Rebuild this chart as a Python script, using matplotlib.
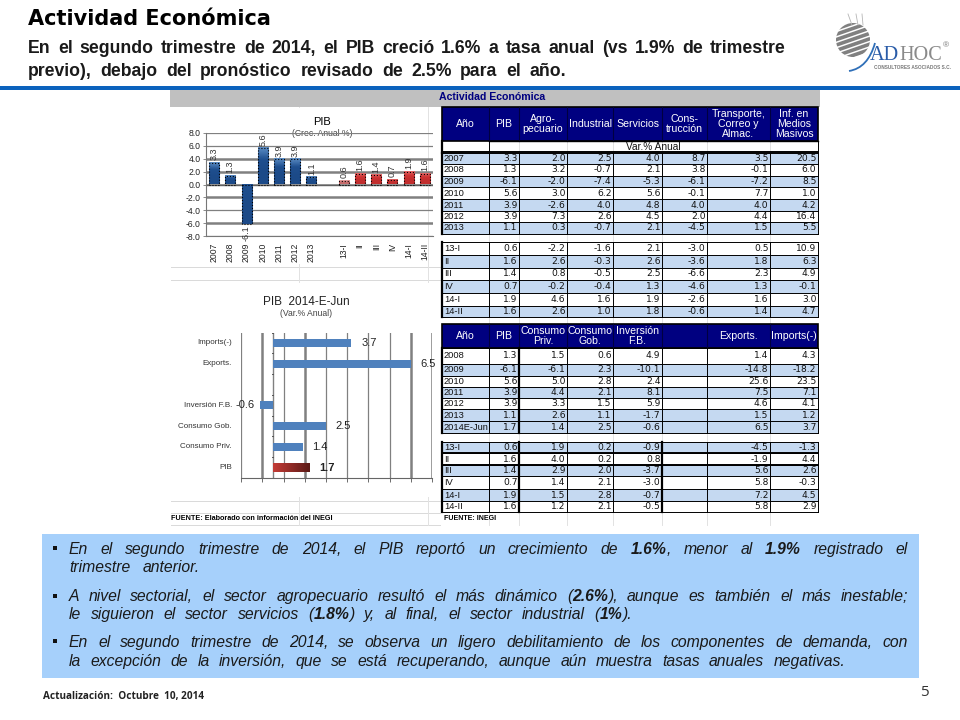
import re
import numpy as np
import matplotlib
matplotlib.use('Agg')
import matplotlib.pyplot as plt
from matplotlib.patches import Rectangle, Circle, PathPatch
from matplotlib.path import Path

plt.rcParams['font.family'] = ['Liberation Sans', 'DejaVu Sans']

# Data: chart
pib_labels = ['2007', '2008', '2009', '2010', '2011', '2012', '2013', '',
              '13-I', 'II', 'III', 'IV', '14-I', '14-II']
pib_values = [3.3, 1.3, -6.1, 5.6, 3.9, 3.9, 1.1, None, 0.6, 1.6, 1.4, 0.7, 1.9, 1.6]
pib_ticks = [8, 6, 4, 2, 0, -2, -4, -6, -8]

dem_labels = ['PIB', 'Consumo Priv.', 'Consumo Gob.', 'Inversión F.B.', '', 'Exports.', 'Imports(-)']
dem_values = [1.7, 1.4, 2.5, -0.6, None, 6.5, 3.7]

# Data: first table
head_1 = ['Año', 'PIB', 'Agro-\npecuario', 'Industrial', 'Servicios', 'Cons-\ntrucción',
          'Transporte,\nCorreo y\nAlmac.', 'Inf. en\nMedios\nMasivos']
year_1 = ['2007', '2008', '2009', '2010', '2011', '2012', '2013']
pib_1 = [3.3, 1.3, -6.1, 5.6, 3.9, 3.9, 1.1]
agro_1 = [2.0, 3.2, -2.0, 3.0, -2.6, 7.3, 0.3]
indus_1 = [2.5, -0.7, -7.4, 6.2, 4.0, 2.6, -0.7]
serv_1 = [4.0, 2.1, -5.3, 5.6, 4.8, 4.5, 2.1]
cons_1 = [8.7, 3.8, -6.1, -0.1, 4.0, 2.0, -4.5]
trans_1 = [3.5, -0.1, -7.2, 7.7, 4.0, 4.4, 1.5]
medios_1 = [20.5, 6.0, 8.5, 1.0, 4.2, 16.4, 5.5]

quar_1 = ['13-I', 'II', 'III', 'IV', '14-I', '14-II']
q_pib_1 = [0.6, 1.6, 1.4, 0.7, 1.9, 1.6]
q_agro_1 = [-2.2, 2.6, 0.8, -0.2, 4.6, 2.6]
q_indus_1 = [-1.6, -0.3, -0.5, -0.4, 1.6, 1.0]
q_serv_1 = [2.1, 2.6, 2.5, 1.3, 1.9, 1.8]
q_cons_1 = [-3.0, -3.6, -6.6, -4.6, -2.6, -0.6]
q_trans_1 = [0.5, 1.8, 2.3, 1.3, 1.6, 1.4]
q_medios_1 = [10.9, 6.3, 4.9, -0.1, 3.0, 4.7]

# Data: second table
head_2 = ['Año', 'PIB', 'Consumo\nPriv.', 'Consumo\nGob.', 'Inversión\nF.B.', '', 'Exports.', 'Imports(-)']
year_2 = ['2008', '2009', '2010', '2011', '2012', '2013', '2014E-Jun']
pib_2 = [1.3, -6.1, 5.6, 3.9, 3.9, 1.1, 1.7]
priv_2 = [1.5, -6.1, 5.0, 4.4, 3.3, 2.6, 1.4]
gob_2 = [0.6, 2.3, 2.8, 2.1, 1.5, 1.1, 2.5]
inv_2 = [4.9, -10.1, 2.4, 8.1, 5.9, -1.7, -0.6]
exp_2 = [1.4, -14.8, 25.6, 7.5, 4.6, 1.5, 6.5]
imp_2 = [4.3, -18.2, 23.5, 7.1, 4.1, 1.2, 3.7]

quar_2 = ['13-I', 'II', 'III', 'IV', '14-I', '14-II']
q_pib_2 = [0.6, 1.6, 1.4, 0.7, 1.9, 1.6]
q_priv_2 = [1.9, 4.0, 2.9, 1.4, 1.5, 1.2]
q_gob_2 = [0.2, 0.2, 2.0, 2.1, 2.8, 2.1]
q_inv_2 = [-0.9, 0.8, -3.7, -3.0, -0.7, -0.5]
q_exp_2 = [-4.5, -1.9, 5.6, 5.8, 7.2, 5.8]
q_imp_2 = [-1.3, 4.4, 2.6, -0.3, 4.5, 2.9]

# Slide text, ** marks the bold runs
subtitle = ['En el segundo trimestre de 2014, el PIB creció 1.6% a tasa anual (vs 1.9% de trimestre',
            'previo), debajo del pronóstico revisado de 2.5% para el año.']
body = ['En el segundo trimestre de 2014, el PIB reportó un crecimiento de **1.6%**, menor al **1.9%** registrado el',
        'trimestre anterior.',
        'A nivel sectorial, el sector agropecuario resultó el más dinámico (**2.6%**), aunque es también el más inestable;',
        'le siguieron el sector servicios (**1.8%**) y, al final, el sector industrial (**1%**).',
        'En el segundo trimestre de 2014, se observa un ligero debilitamiento de los componentes de demanda, con',
        'la excepción de la inversión, que se está recuperando, aunque aún muestra tasas anuales negativas.']

# Layout in reference pixels
col_x = [442, 489, 519, 567, 613, 662, 707, 770, 818]
rows_1a = [153, 164, 176, 187, 199, 211, 222, 234]
rows_1q = [242, 255, 268, 280, 293, 306, 317]
rows_2a = [348, 364, 376, 387, 398, 409, 421, 433]
rows_2q = [442, 453, 465, 476, 489, 501, 512]
NAVY = '#000080'
BAND = '#c5d9f1'

fig = plt.figure(figsize=(9.6, 7.2), dpi=100)
bg = fig.add_axes([0, 0, 1, 1])
bg.set_xlim(0, 960)
bg.set_ylim(720, 0)
bg.axis('off')
renderer = fig.canvas.get_renderer()


def px_axes(x0, y0, x1, y1):
    return fig.add_axes([x0 / 960, 1 - y1 / 720, (x1 - x0) / 960, (y1 - y0) / 720])


def word_width(parts, **kw):
    total = 0
    for s, b in parts:
        t = bg.text(0, 0, s, fontweight='bold' if b else kw.get('fontweight', 'normal'),
                    fontsize=kw['fontsize'], fontstyle=kw.get('fontstyle', 'normal'))
        total += t.get_window_extent(renderer).width
        t.remove()
    return total


def fit_line(line, x0, x1, y, **kw):
    # spread the words of a line between x0 and x1, the slide text is justified
    words = []
    for w in line.split(' '):
        pieces = re.split(r'\*\*', w)
        words.append([(p, i % 2 == 1) for i, p in enumerate(pieces) if p])
    widths = [word_width(w, **kw) for w in words]
    gap = (x1 - x0 - sum(widths)) / max(len(words) - 1, 1)
    x = x0
    for w, wd in zip(words, widths):
        cx = x
        for s, b in w:
            t = bg.text(cx, y, s, va='baseline', ha='left', color='#1a1a1a',
                        fontsize=kw['fontsize'], fontstyle=kw.get('fontstyle', 'normal'),
                        fontweight='bold' if b else kw.get('fontweight', 'normal'))
            cx += t.get_window_extent(renderer).width
        x += wd + gap


def draw_rows(labels, columns, edges, band_rows):
    for i, lab in enumerate(labels):
        top, bot = edges[i], edges[i + 1]
        if i in band_rows:
            bg.add_patch(Rectangle((col_x[0], top), col_x[-1] - col_x[0], bot - top, fc=BAND, ec='none', zorder=2))
        bg.text(col_x[0] + 2, (top + bot) / 2, lab, fontsize=6.7, va='center', ha='left', color='#111111', zorder=4)
        for j, col in columns.items():
            bg.text(col_x[j + 2] - 1.5, (top + bot) / 2, f'{col[i]:.1f}', family='DejaVu Sans', fontsize=6.6,
                    va='center', ha='right', color='#111111', zorder=4)
    for y in edges:
        bg.plot([col_x[0], col_x[-1]], [y, y], color='black', lw=0.7, zorder=3)


def draw_header(labels, top, bot):
    bg.add_patch(Rectangle((col_x[0], top), col_x[-1] - col_x[0], bot - top, fc=NAVY, ec='black', lw=1.2, zorder=2))
    for j, lab in enumerate(labels):
        bg.text((col_x[j] + col_x[j + 1]) / 2, (top + bot) / 2, lab, color='white', fontsize=7.6, ha='center',
                va='center', linespacing=1.0, zorder=4)
        if j:
            bg.plot([col_x[j]] * 2, [top, bot], color='#000040', lw=0.8, zorder=3)


def vlines(top, bot, thick=()):
    for j, x in enumerate(col_x):
        lw = 1.6 if j in thick else 0.7
        bg.plot([x, x], [top, bot], color='black', lw=lw, zorder=3)


def shade(ax, x0, x1, y0, y1, colors, horizontal=False):
    # bar with a colour ramp, drawn as an image on the data scale
    cmap = matplotlib.colors.LinearSegmentedColormap.from_list('b', colors)
    ramp = np.linspace(0, 1, 32)
    ramp = ramp[None, :] if horizontal else ramp[:, None]
    ax.imshow(ramp, cmap=cmap, extent=[x0, x1, y0, y1], origin='lower', aspect='auto', zorder=2.9)


# Header of the slide
bg.text(28, 25, 'Actividad Económica', family='DejaVu Sans', fontweight='bold', fontsize=15, color='black')
fit_line(subtitle[0], 28, 786, 53, fontsize=12.7, fontweight='bold')
fit_line(subtitle[1], 28, 566, 76, fontsize=12.7, fontweight='bold')
bg.add_patch(Rectangle((0, 86), 960, 4, fc='#0b62bd', ec='none'))

# Logo
sphere = Circle((853, 40), 17, transform=bg.transData, fc='none', ec='none')
bg.add_patch(sphere)
for off in np.arange(-17, 18, 5.4):
    ln, = bg.plot([830, 876], [40 + off + 8, 40 + off - 8], color='#808080', lw=2.6, solid_capstyle='butt')
    ln.set_clip_path(sphere)
for x_a, x_b in [(852, 848), (858, 856), (863, 862)]:
    bg.plot([x_a, x_b], [25, 14], color='#b5b5b5', lw=0.6)
arc = Path([(849, 71), (868, 68), (875, 43)], [Path.MOVETO, Path.CURVE3, Path.CURVE3])
bg.add_patch(PathPatch(arc, fc='none', ec='#2f6fb8', lw=1.3))
ad = bg.text(870, 60, 'AD', family='Liberation Serif', fontsize=14.6, color='#2a5ca8', va='baseline')
ad_w = ad.get_window_extent(renderer).width
hoc = bg.text(870 + ad_w, 60, 'HOC', family='Liberation Serif', fontsize=14.6, color='#8a8a8a', va='baseline')
hoc_end = hoc.get_window_extent(renderer).x1
bg.text(hoc_end + 1, 47, '®', fontsize=6, color='#777777', va='baseline')
bg.text(874, 69, 'CONSULTORES ASOCIADOS S.C.', fontsize=3.4, fontweight='bold', color='#777777', va='baseline')

# Spreadsheet background
bg.add_patch(Rectangle((170, 90), 650, 17, fc='#c0c0c0', ec='none'))
bg.text(492, 97.5, 'Actividad Económica', color=NAVY, fontweight='bold', fontsize=7.6, ha='center', va='center')
for y in [267, 280, 501, 513, 525]:
    bg.plot([171, 440], [y, y], color='#d9d9d9', lw=0.7, zorder=1)
for x in [299, 428]:
    bg.plot([x, x], [107, 525], color='#e2e2e2', lw=0.7, zorder=1)
for x in col_x[1:-1]:
    bg.plot([x, x], [107, 525], color='#e2e2e2', lw=0.7, zorder=1)
bg.add_patch(Rectangle((172, 108), 255, 156, fc='white', ec='none', zorder=1.5))
bg.add_patch(Rectangle((172, 283), 265, 214, fc='white', ec='none', zorder=1.5))

# First table
draw_header(head_1, 107, 141)
bg.text((col_x[1] + col_x[-1]) / 2, 146.5, 'Var.% Anual', fontsize=7.3, ha='center', va='center', color='#111111', zorder=4)
bg.plot([col_x[1], col_x[-1]], [141, 141], color='black', lw=1, zorder=3)
bg.plot([col_x[0], col_x[-1]], [152, 152], color='black', lw=1.4, zorder=3)
vlines(153, 234, thick=(0,))
bg.plot([col_x[0]] * 2, [141, 153], color='black', lw=1.6, zorder=3)
bg.plot([col_x[1]] * 2, [141, 153], color='black', lw=0.7, zorder=3)
bg.plot([col_x[-1]] * 2, [141, 153], color='black', lw=0.7, zorder=3)
draw_rows(year_1, {0: pib_1, 1: agro_1, 2: indus_1, 3: serv_1, 4: cons_1, 5: trans_1, 6: medios_1},
          rows_1a, {0, 2, 4, 6})
vlines(242, 317, thick=(0,))
draw_rows(quar_1, {0: q_pib_1, 1: q_agro_1, 2: q_indus_1, 3: q_serv_1, 4: q_cons_1, 5: q_trans_1, 6: q_medios_1},
          rows_1q, {1, 3, 5})

# Second table
draw_header(head_2, 324, 348)
vlines(348, 433, thick=(0, 2))
draw_rows(year_2, {0: pib_2, 1: priv_2, 2: gob_2, 3: inv_2, 5: exp_2, 6: imp_2}, rows_2a, {1, 3, 5, 6})
vlines(442, 512, thick=(0, 2, 5))
draw_rows(quar_2, {0: q_pib_2, 1: q_priv_2, 2: q_gob_2, 3: q_inv_2, 5: q_exp_2, 6: q_imp_2}, rows_2q, {0, 2, 4})
for y in [rows_2q[1], rows_2q[2]]:
    bg.plot([col_x[0], col_x[-1]], [y, y], color='black', lw=1.4, zorder=3)
bg.text(444, 519, 'FUENTE: INEGI', fontsize=5.1, fontweight='bold', va='center', zorder=4)
bg.text(171, 519, 'FUENTE: Elaborado con información del INEGI', fontsize=5.2, fontweight='bold', va='center', zorder=4)

# PIB columns
ax1 = px_axes(206, 133, 433, 236)
ax1.patch.set_alpha(0)
xs = np.arange(len(pib_labels))
for i, v in enumerate(pib_values):
    if v is None:
        continue
    if i < 7:
        colors = ['#1c4a88', '#1c4a88', '#1f4f8f', '#5b8cc4']
    elif i == 8:
        colors = ['#c56a6a', '#c56a6a', '#d98080', '#e5a5a5']
    else:
        colors = ['#c22e2e', '#c22e2e', '#cf3434', '#e56a6a']
    ax1.bar(i, v, width=0.62, facecolor='none', edgecolor='black', linestyle=':', linewidth=0.8, zorder=3)
    shade(ax1, i - 0.31, i + 0.31, min(v, 0), max(v, 0), colors if v > 0 else colors[:3])
    if v >= 0:
        ax1.annotate(f'{v:.1f}', (i, v), xytext=(0, 2), textcoords='offset points', rotation=90, ha='center',
                     va='bottom', fontsize=6.5, color='#333333', zorder=5)
    else:
        ax1.annotate(f'{v:.1f}', (i, v), xytext=(0, -1), textcoords='offset points', rotation=90, ha='center',
                     va='top', fontsize=6.5, color='#333333', zorder=5)
ax1.set_xlim(-0.5, 13.5)
ax1.set_ylim(-8, 8)
ax1.set_yticks(pib_ticks)
ax1.set_yticklabels([f'{t:.1f}' for t in pib_ticks], fontsize=6.2, color='#222222')
ax1.set_xticks(xs)
ax1.set_xticklabels(pib_labels, rotation=90, fontsize=6.2, color='#222222')
ax1.tick_params(axis='y', length=2, width=0.6, pad=2, color='#777777')
ax1.tick_params(axis='x', length=0, pad=5)
for t, lw in zip(pib_ticks, [1, 1, 2, 2, 1.2, 2, 1, 2, 1]):
    ax1.axhline(t, color='#808080', lw=lw * 0.9, zorder=1)
ax1.axhline(0, color='#606060', lw=1, zorder=2)
for s in ['top', 'right']:
    ax1.spines[s].set_visible(False)
for s in ['left', 'bottom']:
    ax1.spines[s].set_color('#777777')
bg.text(322, 122, 'PIB', fontsize=8, ha='center', va='center', zorder=4)
bg.text(322, 134, '(Crec. Anual %)', fontsize=6.2, ha='center', va='center', color='#444444', zorder=4)

# Demand bars
ax2 = px_axes(241.3, 332.5, 432, 478)
ax2.patch.set_alpha(0)
ys = np.arange(len(dem_labels))
for i, v in enumerate(dem_values):
    if v is None:
        continue
    if i == 0:
        ax2.barh(i, v, height=0.4, color='#b03030', zorder=2)
        shade(ax2, 0, v, i - 0.2, i + 0.2, ['#c23b36', '#5c1a16'], horizontal=True)
    else:
        ax2.barh(i, v, height=0.4, color='#4f81bd', zorder=3)
    off = 7 if v >= 0 else -4
    ax2.annotate(f'{v:.1f}', (v, i), xytext=(off, 0), textcoords='offset points', ha='left' if v >= 0 else 'right',
                 va='center', fontsize=8, color='#222222', fontweight='bold' if i == 0 else 'normal', zorder=5)
ax2.set_xlim(-1.5, 7.5)
ax2.set_ylim(-0.5, 6.5)
grid_x = np.arange(-1.5, 7.6, 1)
for g, lw in zip(grid_x, [1, 2, 1, 2, 1, 1, 1, 1, 2, 2]):
    ax2.axvline(g, color='#808080', lw=lw * 0.9, zorder=1)
ax2.set_xticks(grid_x)
ax2.set_xticklabels([])
ax2.tick_params(axis='x', direction='out', length=3, width=0.6, color='#555555')
ax2.set_yticks(ys)
ax2.set_yticklabels([])
ax2.tick_params(axis='y', length=0)
for i, lab in zip(ys, dem_labels):
    bg.text(232, 478 - 20.8 * (i + 0.5), lab, fontsize=5.8, ha='right', va='center', color='#333333', zorder=4)
for y_t in np.arange(-0.5, 6.6, 1):
    ax2.plot([-0.05, 0], [y_t, y_t], color='#555555', lw=0.7, zorder=4)
ax2.axvline(0, color='#808080', lw=1, zorder=2)
for s in ['top', 'right', 'left']:
    ax2.spines[s].set_visible(False)
ax2.spines['bottom'].set_color('#666666')
bg.text(306, 302, 'PIB  2014-E-Jun', fontsize=8.5, ha='center', va='center', zorder=4, color='#222222')
bg.text(306, 314, '(Var.% Anual)', fontsize=6.2, ha='center', va='center', color='#444444', zorder=4)

# Text box
bg.add_patch(Rectangle((42, 534), 877, 144, fc='#a6d0fb', ec='none'))
for y in [548, 596, 641]:
    bg.add_patch(Rectangle((53, y - 2), 4, 4, fc='#111111', ec='none'))
baselines = [554, 572, 601, 619, 647, 666]
line_ends = [908, 200, 908, 632, 908, 845]
for line, y, x1 in zip(body, baselines, line_ends):
    fit_line(line, 69, x1, y, fontsize=11.3, fontstyle='italic')

# Footer
bg.text(43, 697, 'Actualización:  Octubre  10, 2014', family='Open Sans', fontweight='bold', fontsize=7.2,
        va='center', color='#222222')
bg.text(924, 692, '5', family='Open Sans', fontsize=11, ha='center', va='center', color='#333333')

fig.savefig('out.png', dpi=100)
plt.close(fig)
